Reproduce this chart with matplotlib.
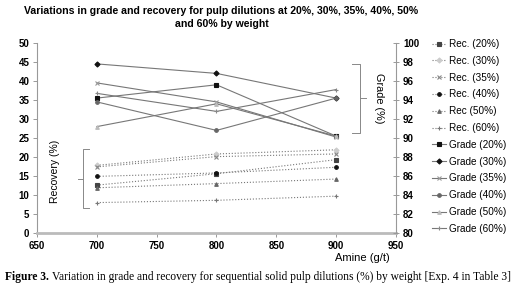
import numpy as np
import matplotlib
matplotlib.use('Agg')
import matplotlib.pyplot as plt
from matplotlib.lines import Line2D

plt.rcParams['font.family'] = ['Liberation Sans', 'DejaVu Sans']

#----------------------------------------------------------------data

amine = [700, 800, 900]

rec_20 = [12.6, 15.6, 19.3]
rec_30 = [17.8, 20.8, 21.9]
rec_35 = [17.4, 20.1, 20.8]
rec_40 = [14.9, 15.8, 17.3]
rec_50 = [11.9, 13.0, 14.2]
rec_60 = [8.0, 8.6, 9.7]

grade_20 = [94.2, 95.6, 90.2]
grade_30 = [97.8, 96.8, 94.2]
grade_35 = [95.8, 93.8, 90.1]
grade_40 = [93.8, 90.8, 94.2]
grade_50 = [91.2, 93.6, 90.2]
grade_60 = [94.7, 92.8, 95.1]

rec_labels = ['Rec. (20%)', 'Rec. (30%)', 'Rec. (35%)', 'Rec. (40%)', 'Rec (50%)', 'Rec. (60%)']
grade_labels = ['Grade (20%)', 'Grade (30%)', 'Grade (35%)', 'Grade (40%)', 'Grade (50%)', 'Grade (60%)']

x_ticks = [650, 700, 750, 800, 850, 900, 950]
left_ticks = [0, 5, 10, 15, 20, 25, 30, 35, 40, 45, 50]
right_ticks = [80, 82, 84, 86, 88, 90, 92, 94, 96, 98, 100]

#----------------------------------------------------------------styles

rec_styles = [('s', '#444444'), ('D', '#cccccc'), ('x', '#888888'),
              ('o', '#111111'), ('^', '#666666'), ('+', '#777777')]
grade_styles = [('s', '#111111'), ('D', '#111111'), ('x', '#999999'),
                ('o', '#666666'), ('^', '#bbbbbb'), ('+', '#888888')]

W, H = 521, 286
fig = plt.figure(figsize=(W / 100, H / 100), dpi=100)
ax = fig.add_axes([37 / W, 1 - 233 / H, (396 - 37) / W, (233 - 43) / H])
ax2 = ax.twinx()


def msize(m):
    return 3.4 if m in 'x+' else 2.6


handles = []
for vals, lab, (m, c) in zip([rec_20, rec_30, rec_35, rec_40, rec_50, rec_60], rec_labels, rec_styles):
    h, = ax.plot(amine, vals, linestyle=':', color='#777777', linewidth=0.8,
                 marker=m, markersize=msize(m), markerfacecolor=c,
                 markeredgecolor=c, markeredgewidth=0.8, label=lab)
    handles.append(h)

for vals, lab, (m, c) in zip([grade_20, grade_30, grade_35, grade_40, grade_50, grade_60], grade_labels, grade_styles):
    h, = ax2.plot(amine, vals, linestyle='-', color='#777777', linewidth=0.8,
                  marker=m, markersize=msize(m), markerfacecolor=c,
                  markeredgecolor=c, markeredgewidth=0.8, label=lab)
    handles.append(h)

ax.set_xlim(650, 950)
ax.set_ylim(0, 50)
ax2.set_ylim(80, 100)
ax.set_xticks(x_ticks)
ax.set_yticks(left_ticks)
ax2.set_yticks(right_ticks)

for a in (ax, ax2):
    for s in a.spines.values():
        s.set_color('#999999')
        s.set_linewidth(0.8)
    a.spines['top'].set_visible(False)
    a.tick_params(colors='#999999', labelcolor='black', labelsize=7, length=3, width=0.7, pad=2.5)
ax.spines['bottom'].set_linewidth(2)
ax.spines['bottom'].set_color('#bbbbbb')
ax.spines['right'].set_visible(False)
ax2.spines['left'].set_visible(False)
ax2.spines['bottom'].set_visible(False)
ax2.tick_params(direction='inout', length=5)
for lbl in ax.get_xticklabels() + ax.get_yticklabels() + ax2.get_yticklabels():
    lbl.set_fontweight('bold')

fig.text(0.425, 1 - 17.5 / H, 'Variations in grade and recovery for pulp dilutions at 20%, 30%, 35%, 40%, 50%\nand 60% by weight',
         ha='center', va='center', fontsize=7.6, fontweight='bold', linespacing=1.4)

fig.text(390 / W, 1 - 258 / H, 'Amine (g/t)', ha='right', va='center', fontsize=8)
fig.text(55 / W, 1 - 171 / H, 'Recovery (%)', rotation=90, ha='center', va='center', fontsize=7.5)
fig.text(379 / W, 1 - 98 / H, 'Grade (%)', rotation=-90, ha='center', va='center', fontsize=7.8)


def fig_line(xs, ys):
    fig.add_artist(Line2D([x / W for x in xs], [1 - y / H for y in ys],
                          transform=fig.transFigure, color='#888888', linewidth=0.7))


# left bracket
fig_line([89, 83, 83, 89], [149, 149, 208, 208])
fig_line([78, 83], [179, 179])
# right bracket
fig_line([352, 360, 360, 352], [64, 64, 133, 133])
fig_line([360, 366], [98, 98])

fig.legend(handles=handles, loc='upper left', bbox_to_anchor=(432 / W, 1 - 39 / H),
           frameon=False, fontsize=7.2, labelspacing=0.68, handlelength=1.4,
           handletextpad=0.3, borderaxespad=0, borderpad=0)

cap = fig.text(5 / W, 1 - 277 / H, 'Figure 3. ', fontsize=8.3, fontweight='bold',
               family='Liberation Serif', va='center')
ax.annotate('Variation in grade and recovery for sequential solid pulp dilutions (%) by weight [Exp. 4 in Table 3]',
            xy=(1, 0.5), xycoords=cap, va='center', ha='left', fontsize=8.3,
            family='Liberation Serif', annotation_clip=False)

fig.savefig('out.png', dpi=100)
